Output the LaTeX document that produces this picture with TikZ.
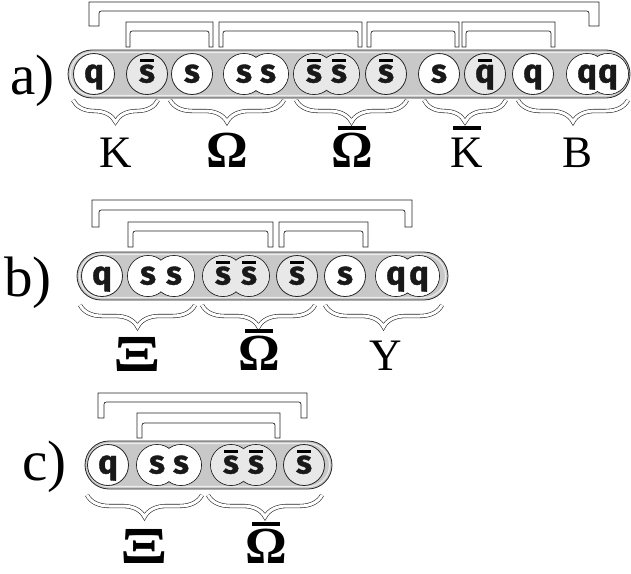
\documentclass[tikz,border=0pt]{standalone}
\usepackage{fontspec}
\usepackage{graphicx}
\setmainfont{Liberation Serif}
\newfontfamily\qfont{Fira Sans}[BoldFeatures={FakeBold=1}]
\usetikzlibrary{decorations.pathreplacing}
\definecolor{capgray}{RGB}{200,200,200}
\definecolor{aqgray}{RGB}{232,232,232}
\definecolor{rimgray}{RGB}{236,236,236}
\newcommand\Qs[4]{\node[qc] (#1) at (#2,#3) {}; \node[qt] (#1t) at (#1.center) {#4};}
\newcommand\Qbar[1]{\fill ([xshift=-7pt,yshift=12pt]#1.center) rectangle ([xshift=7pt,yshift=15.5pt]#1.center);}
\newcommand\Qa[4]{\node[aqc] (#1) at (#2,#3) {}; \node[qt] (#1t) at (#1.center) {#4}; \Qbar{#1}}
\newcommand\QQ[7]{%
  \node[#6] (#1a) at (#2,#4) {}; \node[#6] (#1b) at (#3,#4) {};
  \fill[#7] (#1a.center) circle[radius=19.9pt]; \fill[#7] (#1b.center) circle[radius=19.9pt];
  \node[qt] (#1ta) at (#1a.center) {#5}; \node[qt] (#1tb) at (#1b.center) {#5};}
\newcommand\Brk[6]{%
  \draw[brk] (#1,#4) -- (#1,#3) -- (#2,#3) -- (#2,#4) -- ({#2-#6},#4) -- ({#2-#6},{#3+#5+5})
    .. controls ({#2-#6},{#3+#5}) .. ({#2-#6-5},{#3+#5}) -- ({#1+#6+5},{#3+#5})
    .. controls ({#1+#6},{#3+#5}) .. ({#1+#6},{#3+#5+5}) -- ({#1+#6},#4) -- cycle;}
\newcommand\LBar[1]{\fill ([xshift=-14pt,yshift=37pt]#1.base) rectangle ([xshift=14pt,yshift=41pt]#1.base);}
\newcommand\WideXi{\scalebox{1.35}[1]{Ξ}}
\begin{document}
\begin{tikzpicture}[x=1pt,y=-1pt,
  capsule/.style={draw=black!85, line width=0.8pt, fill=capgray, rounded corners=24pt},
  rim/.style={draw=rimgray, line width=1.1pt, rounded corners=21.5pt},
  qc/.style={circle, minimum size=41pt, inner sep=0pt, draw=black!85, line width=0.8pt, fill=white},
  aqc/.style={qc, fill=aqgray},
  qt/.style={font=\qfont\bfseries\fontsize{33}{33}\selectfont, text height=17pt, text depth=0pt, inner sep=0pt, text=black!90},
  brk/.style={draw=black!85, line width=0.7pt, fill=white},
  brc/.style={decorate, decoration={brace, mirror, amplitude=22pt}, draw=black!85, line width=0.6pt, double=white, double distance=3pt},
  lbl/.style={font=\fontsize{45}{50}\selectfont, anchor=base, inner sep=0pt},
  glbl/.style={lbl, font=\fontsize{52}{56}\selectfont\bfseries},
  rowlbl/.style={font=\fontsize{57}{60}\selectfont, anchor=base west, inner sep=0pt},
]
\useasboundingbox (0,0) rectangle (631,573);

% ---------------- row a ----------------
\node[rowlbl] (la) at (10,94) {a)};
\Brk{89}{599}{2}{26}{9}{10}
\Brk{126}{213}{22}{47}{9}{4}
\Brk{219}{362}{22}{47}{9}{4}
\Brk{367}{459}{22}{47}{9}{4}
\Brk{462}{555}{22}{47}{9}{4}
\draw[capsule] (68,50) rectangle (630,98);
\draw[rim] (70.5,52.5) rectangle (627.5,95.5);
\Qs{a1}{94}{74}{q}
\Qa{a2}{147}{74}{s}
\Qs{a3}{192}{74}{s}
\QQ{a4}{244}{268}{74}{s}{qc}{white}
\QQ{a5}{314}{339}{74}{s}{aqc}{aqgray}\Qbar{a5a}\Qbar{a5b}
\Qa{a6}{386}{74}{s}
\Qs{a7}{439}{74}{s}
\Qa{a8}{485}{74}{q}
\Qs{a9}{533}{74}{q}
\QQ{a10}{587}{608}{74}{q}{qc}{white}
\draw[brc] (73,100) -- (158,100);
\draw[brc] (170,100) -- (284,100);
\draw[brc] (296,100) -- (407,100);
\draw[brc] (424,100) -- (506,100);
\draw[brc] (518,100) -- (628,100);
\node[lbl] (ka) at (115.5,167) {K};
\node[glbl] (oma) at (227,167) {Ω};
\node[glbl] (aoma) at (352,167) {Ω}; \LBar{aoma}
\node[lbl] (aka) at (467,167) {K}; \LBar{aka}
\node[lbl] (ba) at (577,167) {B};

% ---------------- row b ----------------
\node[rowlbl] (lb) at (4,296) {b)};
\Brk{92}{412}{200}{227}{10}{7}
\Brk{128}{273}{222}{247}{9}{5}
\Brk{279}{368}{222}{247}{9}{5}
\draw[capsule] (77,252) rectangle (448,300);
\draw[rim] (79.5,254.5) rectangle (445.5,297.5);
\Qs{b1}{102}{276}{q}
\QQ{b2}{148}{174}{276}{s}{qc}{white}
\QQ{b3}{223}{249}{276}{s}{aqc}{aqgray}\Qbar{b3a}\Qbar{b3b}
\Qa{b4}{297}{276}{s}
\Qs{b5}{345}{276}{s}
\QQ{b6}{396}{419}{276}{q}{qc}{white}
\draw[brc] (80,305) -- (195,305);
\draw[brc] (202,305) -- (315,305);
\draw[brc] (325,305) -- (442,305);
\node[glbl] (xib) at (137.5,371) {\WideXi};
\node[glbl] (aomb) at (259,370) {Ω}; \LBar{aomb}
\node[lbl] (yb) at (386,370) {Y};

% ---------------- row c ----------------
\node[rowlbl] (lc) at (22,480) {c)};
\Brk{98}{307}{393}{418}{9}{6}
\Brk{137}{280}{413}{438}{10}{5}
\draw[capsule] (85,441) rectangle (332,489);
\draw[rim] (87.5,443.5) rectangle (329.5,486.5);
\Qs{c1}{108}{465}{q}
\QQ{c2}{157}{181}{465}{s}{qc}{white}
\QQ{c3}{231}{256}{465}{s}{aqc}{aqgray}\Qbar{c3a}\Qbar{c3b}
\Qa{c4}{304}{465}{s}
\draw[brc] (87,495) -- (202,495);
\draw[brc] (208,495) -- (322,495);
\node[glbl] (xic) at (144.5,563) {\WideXi};
\node[glbl] (aomc) at (266,563) {Ω}; \LBar{aomc}
\end{tikzpicture}
\end{document}
